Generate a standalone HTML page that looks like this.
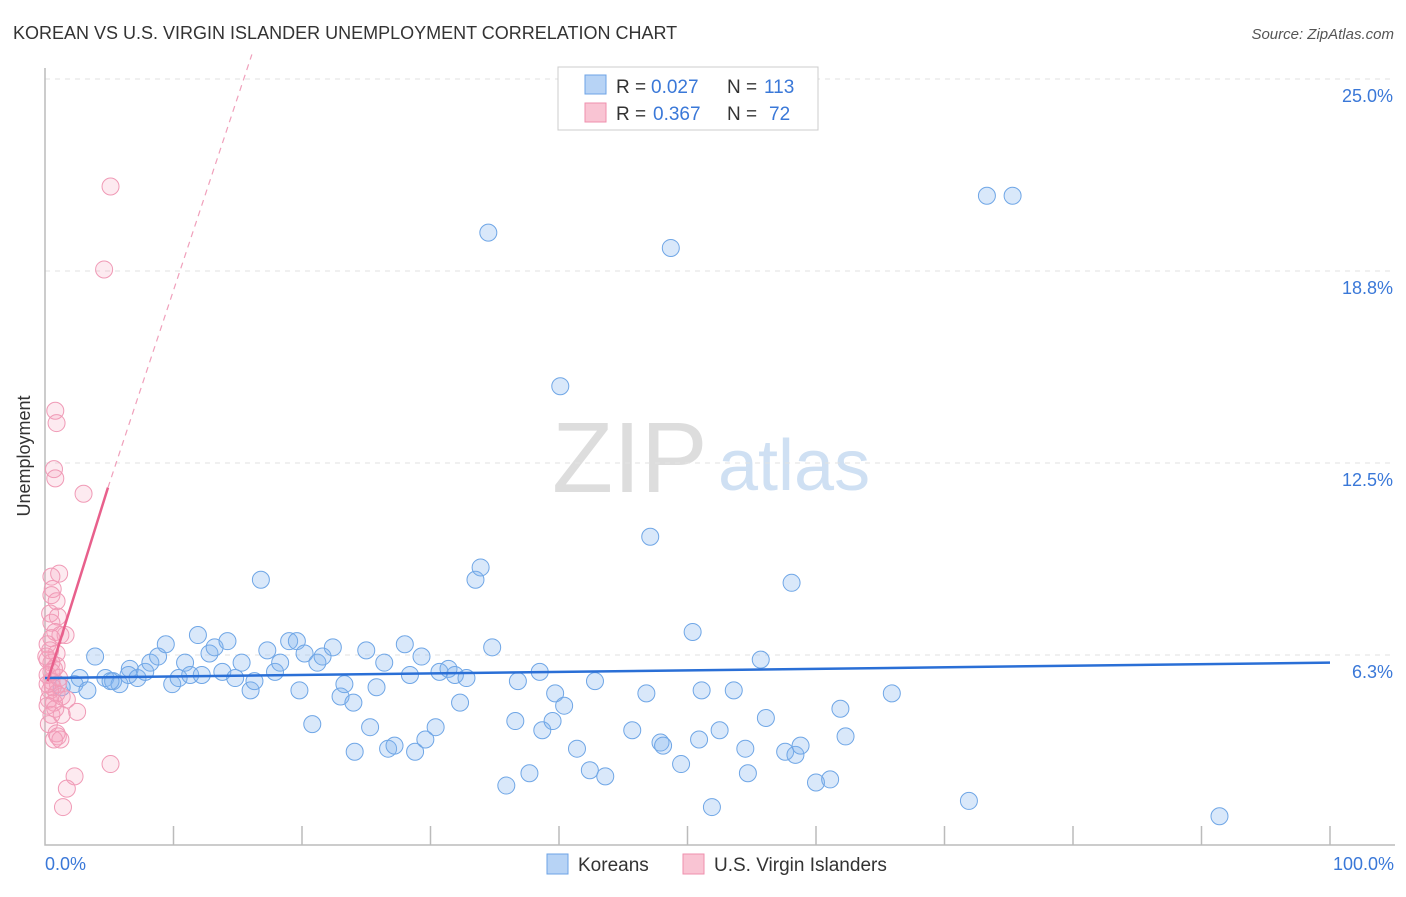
<!DOCTYPE html>
<html><head><meta charset="utf-8"><style>
body{margin:0;background:#fff;font-family:"Liberation Sans",sans-serif}
svg text{font-family:"Liberation Sans",sans-serif}
</style></head><body>
<svg id="chart" width="1406" height="892" viewBox="0 0 1406 892">
<text x="13" y="39" font-size="18" fill="#333">KOREAN VS U.S. VIRGIN ISLANDER UNEMPLOYMENT CORRELATION CHART</text>
<text x="1394" y="39" font-size="15" fill="#555" font-style="italic" text-anchor="end">Source: ZipAtlas.com</text>
<g>
<text x="552" y="492" font-size="100" fill="#ddd" font-family="Liberation Serif, serif">ZIP</text>
<text x="718" y="490" font-size="72" fill="#cfe0f3">atlas</text>
</g>
<g id="grid"></g>
<g id="axes"></g>
<g id="marks"></g>
<text x="30" y="456" font-size="18" fill="#333" text-anchor="middle" transform="rotate(-90 30 456)">Unemployment</text>
<text x="45" y="870" font-size="18" fill="#3a78d8">0.0%</text>
<text x="1394" y="870" font-size="18" fill="#3a78d8" text-anchor="end">100.0%</text>
<g>
<rect x="558" y="67" width="260" height="63" fill="#fff" stroke="#ccc"/>
<rect x="585" y="75" width="21" height="19" fill="#b7d3f5" stroke="#6da3e6"/>
<rect x="585" y="103" width="21" height="19" fill="#f9c4d3" stroke="#ef8fae"/>
<text y="93" font-size="19" fill="#333"><tspan x="616">R =</tspan><tspan x="651" fill="#3a78d8">0.027</tspan><tspan x="727">N =</tspan><tspan x="764" fill="#3a78d8">113</tspan></text>
<text y="120" font-size="19" fill="#333"><tspan x="616">R =</tspan><tspan x="653" fill="#3a78d8">0.367</tspan><tspan x="727">N =</tspan><tspan x="769" fill="#3a78d8">72</tspan></text>
</g>
<g>
<rect x="547" y="854" width="21" height="20" fill="#b7d3f5" stroke="#6da3e6"/>
<text x="578" y="871" font-size="19" fill="#333">Koreans</text>
<rect x="683" y="854" width="21" height="20" fill="#f9c4d3" stroke="#ef8fae"/>
<text x="714" y="871" font-size="19" fill="#333">U.S. Virgin Islanders</text>
</g>
</svg>
<script>
const yTicks=[6.25,12.5,18.75,25];
const yTickLabels=["6.3%","12.5%","18.8%","25.0%"];
const blueX=[3.9,2.3,1.3,2.7,3.3,4.7,5.3,5.8,5.1,6.6,6.5,7.2,7.8,8.2,8.8,9.4,9.9,10.4,10.9,11.3,11.9,12.2,12.8,13.2,13.8,14.2,14.8,15.3,16.0,16.3,16.8,17.3,17.9,18.3,19.0,19.6,19.8,20.2,20.8,21.2,21.6,22.4,23.0,23.3,24.0,24.1,25.0,25.3,25.8,26.4,26.7,27.2,28.0,28.4,28.8,29.3,29.6,30.4,30.7,31.4,31.9,32.3,32.8,33.5,33.9,34.5,34.8,35.9,36.6,36.8,37.7,38.5,38.7,39.5,39.7,40.1,40.4,41.4,42.4,42.8,43.6,45.7,46.8,47.1,47.9,48.1,48.7,49.5,50.4,50.9,51.1,51.9,52.5,53.6,54.5,54.7,55.7,56.1,57.6,58.1,58.4,58.8,60.0,61.1,61.9,62.3,65.9,71.9,73.3,75.3,91.4];
const blueY=[6.2,5.3,5.2,5.5,5.1,5.5,5.4,5.3,5.4,5.8,5.6,5.5,5.7,6.0,6.2,6.6,5.3,5.5,6.0,5.6,6.9,5.6,6.3,6.5,5.7,6.7,5.5,6.0,5.1,5.4,8.7,6.4,5.7,6.0,6.7,6.7,5.1,6.3,4.0,6.0,6.2,6.5,4.9,5.3,4.7,3.1,6.4,3.9,5.2,6.0,3.2,3.3,6.6,5.6,3.1,6.2,3.5,3.9,5.7,5.8,5.6,4.7,5.5,8.7,9.1,20.0,6.5,2.0,4.1,5.4,2.4,5.7,3.8,4.1,5.0,15.0,4.6,3.2,2.5,5.4,2.3,3.8,5.0,10.1,3.4,3.3,19.5,2.7,7.0,3.5,5.1,1.3,3.8,5.1,3.2,2.4,6.1,4.2,3.1,8.6,3.0,3.3,2.1,2.2,4.5,3.6,5.0,1.5,21.2,21.2,1.0];
const pinkX=[5.1,4.6,0.8,0.9,0.7,0.8,3.0,1.1,0.5,0.6,0.5,0.9,0.4,1.0,0.5,0.8,1.6,1.2,0.5,0.2,0.9,0.2,0.5,0.7,0.9,0.2,0.5,1.0,0.4,0.9,1.3,0.3,0.7,1.7,2.5,1.3,0.5,0.3,0.9,1.0,0.7,1.2,5.1,2.3,1.7,1.4,0.4,0.1,0.6,0.2,0.5,1.1,0.2,0.8];
const pinkY=[21.5,18.8,14.2,13.8,12.3,12.0,11.5,8.9,8.8,8.4,8.2,8.0,7.6,7.5,7.3,7.0,6.9,6.9,6.8,6.6,6.3,6.1,6.0,5.8,5.9,5.6,5.4,5.3,5.1,5.0,4.9,4.8,4.7,4.8,4.4,4.3,4.3,4.0,3.7,3.6,3.5,3.5,2.7,2.3,1.9,1.3,6.4,6.2,5.2,5.3,5.7,5.5,4.6,4.5];
const blueTrend=[5.5,6.0];
const pinkTrend=[5.4,11.7,25.8];
const pinkTrendX=[0.2,4.9,16.1];
const xs=v=>45+v*12.85, ys=v=>847-v*30.72;
const NS="http://www.w3.org/2000/svg";
function mk(tag,attrs,parent){const e=document.createElementNS(NS,tag);for(const k in attrs)e.setAttribute(k,attrs[k]);parent.appendChild(e);return e;}
const grid=document.getElementById('grid'),axes=document.getElementById('axes'),marks=document.getElementById('marks');
yTicks.forEach((t,i)=>{
 const l=mk('line',{x1:45,x2:1395,y1:ys(t),y2:ys(t),stroke:'#e2e2e2','stroke-dasharray':'5,5'},grid);
 
 
 const tx=mk('text',{x:1393,y:ys(t)+23,'font-size':18,fill:'#3a78d8','text-anchor':'end'},grid);
 tx.textContent=yTickLabels[i];
 
 
});
const ax=mk('path',{d:'M45,68V845H1395',fill:'none',stroke:'#bbb','stroke-width':1.5},axes);


for(let i=1;i<=10;i++){const t=mk('line',{x1:xs(i*10),x2:xs(i*10),y1:826,y2:845,stroke:'#bbb','stroke-width':1.5},axes);
 
 }
blueX.forEach((x,i)=>{const c=mk('circle',{cx:xs(x),cy:ys(blueY[i]),r:8.5,fill:'rgba(130,178,238,0.3)',stroke:'#6fa6e6','stroke-width':1},marks);
 
 });
pinkX.forEach((x,i)=>{const c=mk('circle',{cx:xs(x),cy:ys(pinkY[i]),r:8.5,fill:'rgba(245,160,188,0.22)',stroke:'#f09ab6','stroke-width':1},marks);
 
 });
const bt=mk('line',{x1:xs(0),x2:xs(100),y1:ys(blueTrend[0]),y2:ys(blueTrend[1]),stroke:'#2a6fd6','stroke-width':2.5},marks);


const pt=mk('line',{x1:xs(pinkTrendX[0]),x2:xs(pinkTrendX[1]),y1:ys(pinkTrend[0]),y2:ys(pinkTrend[1]),stroke:'#e8608c','stroke-width':2.5},marks);


const pd=mk('line',{x1:xs(pinkTrendX[1]),x2:xs(pinkTrendX[2]),y1:ys(pinkTrend[1]),y2:ys(pinkTrend[2]),stroke:'#f0a0bb','stroke-width':1.2,'stroke-dasharray':'6,5'},marks);


</script>
</body></html>
